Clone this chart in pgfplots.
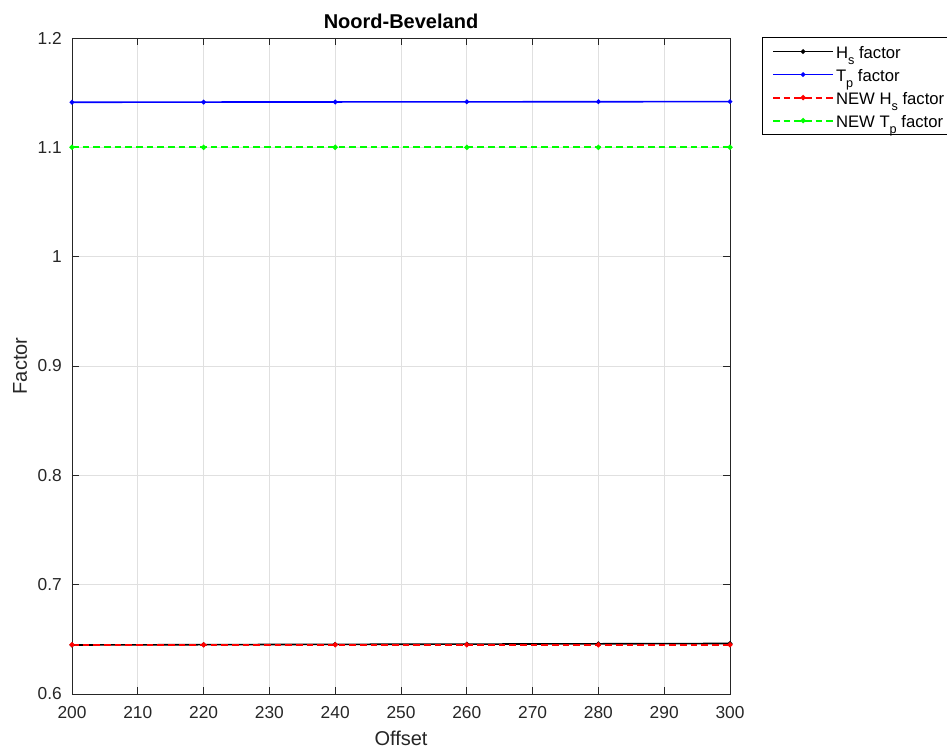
\documentclass[border=0pt]{standalone}
\usepackage{pgfplots}
\pgfplotsset{compat=1.18}
\usepackage{fontspec}
\setmainfont{Liberation Sans}
\definecolor{gridgray}{gray}{0.88}
\definecolor{axgray}{gray}{0.15}
\definecolor{mred}{rgb}{1,0,0}
\definecolor{mgreen}{rgb}{0,1,0}
\newcommand{\sub}[1]{\raisebox{-0.7ex}{\fontsize{9.5}{10}\selectfont #1}}
\begin{document}
\begin{tikzpicture}
\begin{axis}[
  set layers=standard,
  at={(0,0)}, anchor=south west,
  scale only axis,
  width=493.5pt, height=492pt,
  xmin=200, xmax=300, ymin=0.6, ymax=1.2,
  xtick={200,210,...,300},
  ytick={0.6,0.7,0.8,0.9,1,1.1,1.2},
  yticklabels={0.6,0.7,0.8,0.9,1,1.1,1.2},
  /pgf/number format/assume math mode=true,
  tick label style={font=\fontsize{13}{15}\selectfont, color=axgray},
  yticklabel style={inner sep=0pt, anchor=east, xshift=-7.5pt},
  xticklabel style={inner sep=0pt, anchor=north, yshift=-9pt},
  grid=major,
  major grid style={color=gridgray, line width=0.7pt},
  axis line style={color=axgray, line width=0.7pt},
  tick style={color=axgray, line width=0.7pt},
  tick align=inside,
  major tick length=5pt,
  every axis title shift=0pt,
  title={\textbf{Noord-Beveland}},
  title style={font=\fontsize{15}{17}\selectfont, at={(axis description cs:0.5,1.0152)}, anchor=base, inner sep=0pt},
  xlabel={Offset},
  ylabel={Factor},
  label style={font=\fontsize{15}{17}\selectfont, color=axgray},
  xlabel style={at={(axis description cs:0.5,-0.0785)}, anchor=base, inner sep=0pt},
  ylabel style={at={(axis description cs:-0.079,0.5)}, anchor=center, inner sep=0pt},
  legend style={at={(1.0486,1.0015)}, anchor=north west, draw=black, line width=0.6pt,
    font=\fontsize{12.5}{14}\selectfont, row sep=0pt, inner sep=2pt,
    nodes={inner sep=1.5pt, text height=12pt, text depth=2.25pt},
    /tikz/every even column/.append style={column sep=1pt}},
  legend cell align=left,
  legend image code/.code={\path (0pt,0pt); \draw[mark repeat=2,mark phase=2] plot coordinates {(5.25pt,0pt) (27.75pt,0pt) (50.25pt,0pt)};},
]
\addplot[color=black, line width=1.2pt, mark=*, mark size=1.1pt] coordinates {
(200,0.6448) (220,0.6451) (240,0.6454) (260,0.6456) (280,0.6459) (300,0.6462)};
\addlegendentry{H\sub{s} factor}
\addplot[color=blue, line width=1.2pt, mark=*, mark size=1.1pt] coordinates {
(200,1.1412) (220,1.1414) (240,1.1415) (260,1.1416) (280,1.1417) (300,1.1418)};
\addlegendentry{T\sub{p} factor}
\addplot[color=mred, dash pattern=on 5pt off 3pt, line width=1.5pt, mark=*, mark size=1.1pt, mark options={solid}] coordinates {
(200,0.645) (220,0.645) (240,0.645) (260,0.645) (280,0.645) (300,0.645)};
\addlegendentry{NEW H\sub{s} factor}
\addplot[color=mgreen, dash pattern=on 5pt off 3pt, line width=1.5pt, mark=*, mark size=1.1pt, mark options={solid}] coordinates {
(200,1.1) (220,1.1) (240,1.1) (260,1.1) (280,1.1) (300,1.1)};
\addlegendentry{NEW T\sub{p} factor}
\end{axis}
\pgfresetboundingbox
\path[use as bounding box] (-54pt,-41.25pt) rectangle (656.25pt,520.5pt);
\end{tikzpicture}
\end{document}
